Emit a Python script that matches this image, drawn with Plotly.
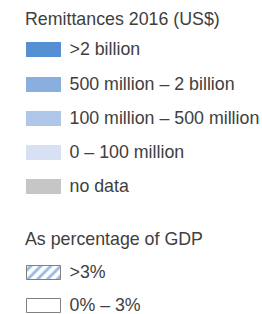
import plotly.graph_objects as go

title_amount = "Remittances 2016 (US$)"
amount_labels = [">2 billion", "500 million – 2 billion", "100 million – 500 million",
                 "0 – 100 million", "no data"]
amount_colors = ["#5591d2", "#8aaede", "#afc6e8", "#d8e0f3", "#c6c6c6"]

title_gdp = "As percentage of GDP"
gdp_labels = [">3%", "0% – 3%"]
gdp_patterns = ["/", ""]

# layout positions (pixels, top of swatch)
amount_tops = [42, 77, 111, 145, 179]
gdp_tops = [265, 298]
SW_X0, SW_W, SW_H = 26, 35, 15
TEXT_X = 69.5
FONT = "Liberation Sans, Arial, Helvetica, sans-serif"
TXT_COLOR = "#404040"
FS = 17.8

fig = go.Figure()

fig.add_trace(go.Bar(
    x=[SW_X0 + SW_W / 2] * len(amount_labels),
    y=[SW_H] * len(amount_labels),
    base=amount_tops,
    width=SW_W,
    marker=dict(color=amount_colors, line=dict(width=0)),
    hoverinfo="skip", showlegend=False,
))

fig.add_trace(go.Bar(
    x=[SW_X0 + SW_W / 2] * len(gdp_labels),
    y=[SW_H - 1] * len(gdp_labels),
    base=[t + 0.5 for t in gdp_tops],
    width=SW_W - 1,
    marker=dict(color="white",
                line=dict(width=1, color="#808080"),
                pattern=dict(shape=gdp_patterns, fgcolor="#2f72c2",
                             bgcolor="white", size=7, solidity=0.4)),
    hoverinfo="skip", showlegend=False,
))

fig.add_trace(go.Scatter(
    x=[TEXT_X] * len(amount_labels) + [TEXT_X] * len(gdp_labels),
    y=[t + SW_H / 2 + 1 for t in amount_tops] + [t + SW_H / 2 + 1 for t in gdp_tops],
    text=amount_labels + gdp_labels,
    mode="text", textposition="middle right",
    textfont=dict(family=FONT, size=FS, color=TXT_COLOR),
    hoverinfo="skip", showlegend=False,
))

fig.add_trace(go.Scatter(
    x=[SW_X0 - 1, SW_X0 - 1],
    y=[21, 241],
    text=[title_amount, title_gdp],
    mode="text", textposition="middle right",
    textfont=dict(family=FONT, size=FS, color=TXT_COLOR),
    hoverinfo="skip", showlegend=False,
))

fig.update_layout(
    width=262, height=314,
    margin=dict(l=0, r=0, t=0, b=0),
    paper_bgcolor="white", plot_bgcolor="white",
    bargap=0,
    xaxis=dict(range=[0, 262], visible=False, fixedrange=True),
    yaxis=dict(range=[314, 0], visible=False, fixedrange=True),
)

fig.write_html("out.html", config={"displayModeBar": False},
               post_script="document.body.style.margin='0';document.body.style.overflow='hidden';")
